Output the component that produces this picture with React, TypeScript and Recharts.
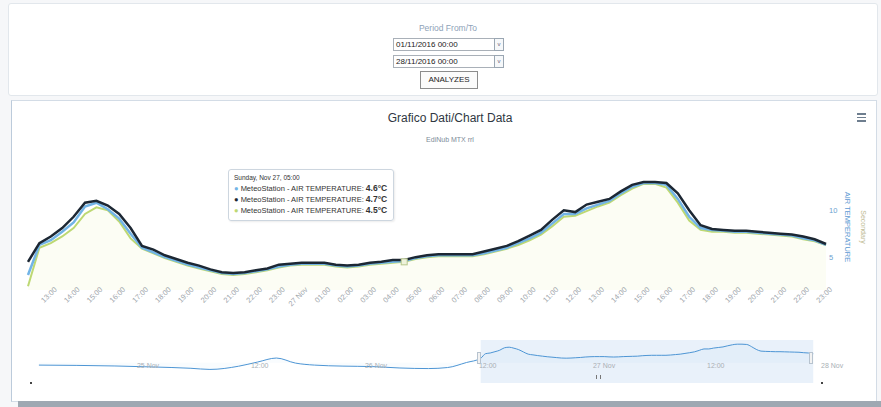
import React from "react";
import { ComposedChart, Line, Area, XAxis, YAxis, Tooltip, ReferenceArea } from "recharts";

// hours counted from 26 Nov 00:00, one reading every 30 min
const START_HOUR = 12.5;
const STEP_HOURS = 0.5;

const blueTemps = [
  3.1, 6.3, 6.8, 7.7, 8.7, 10.4, 10.8, 10.1, 9.1, 7.5,
  6.0, 5.5, 5.0, 4.6, 4.2, 3.9, 3.6, 3.3, 3.2, 3.3,
  3.5, 3.7, 4.0, 4.2, 4.3, 4.3, 4.3, 4.1, 4.0, 4.1,
  4.3, 4.4, 4.5, 4.6, 4.9, 5.1, 5.2, 5.2, 5.2, 5.2,
  5.4, 5.7, 6.0, 6.5, 7.0, 7.6, 8.6, 9.6, 9.6, 10.2,
  10.6, 11.0, 11.8, 12.5, 12.9, 12.9, 12.7, 11.2, 9.3, 8.1,
  7.9, 7.8, 7.7, 7.7, 7.6, 7.5, 7.4, 7.3, 7.0, 6.8,
  6.3,
];
const blackTemps = [
  4.5, 6.5, 7.2, 8.1, 9.3, 10.8, 11.0, 10.5, 9.6, 8.1,
  6.2, 5.8, 5.2, 4.8, 4.4, 4.1, 3.7, 3.4, 3.3, 3.4,
  3.6, 3.8, 4.2, 4.3, 4.4, 4.4, 4.4, 4.2, 4.1, 4.2,
  4.4, 4.5, 4.7, 4.7, 5.0, 5.2, 5.3, 5.3, 5.3, 5.3,
  5.6, 5.9, 6.2, 6.7, 7.3, 7.9, 9.0, 10.0, 9.8, 10.6,
  10.9, 11.2, 12.0, 12.7, 13.0, 13.0, 12.9, 11.8, 10.0, 8.4,
  8.0, 7.9, 7.8, 7.8, 7.7, 7.6, 7.5, 7.4, 7.2, 6.9,
  6.4,
];
const greenTemps = [
  1.9, 6.0, 6.5, 7.2, 8.1, 9.6, 10.3, 10.0, 8.8, 7.0,
  5.9, 5.4, 4.9, 4.5, 4.1, 3.8, 3.5, 3.2, 3.1, 3.2,
  3.4, 3.6, 3.9, 4.1, 4.2, 4.2, 4.2, 4.0, 3.9, 4.0,
  4.2, 4.3, 4.4, 4.5, 4.8, 5.0, 5.1, 5.1, 5.1, 5.1,
  5.3, 5.6, 5.9, 6.3, 6.8, 7.4, 8.3, 9.3, 9.4, 9.9,
  10.4, 10.8, 11.6, 12.3, 12.8, 12.8, 12.4, 10.8, 8.9, 7.9,
  7.7, 7.7, 7.6, 7.6, 7.5, 7.4, 7.3, 7.2, 6.9, 6.7,
  6.3,
];

const hourTicks = [
  13, 14, 15, 16, 17, 18, 19, 20, 21, 22, 23, 24, 25, 26, 27, 28, 29, 30,
  31, 32, 33, 34, 35, 36, 37, 38, 39, 40, 41, 42, 43, 44, 45, 46, 47,
];
const tempTicks = [5, 10];

// navigator: the days before the zoomed range
const navHours = [-34, -30, -26, -22, -18, -16, -13, -11, -9, -7, -5, -2, 1, 4, 7, 9, 11];
const navTemps = [-1.6, -1.8, -2.2, -2.9, -3.8, -4.6, -2.4, 0.5, 3.3, -0.2, -1.6, -2.3, -2.6, -3.6, -4.0, -3.3, 0.2];
const navTicks = [-24, -12, 0, 12, 24, 36, 48];
const navTickLabels = ["25 Nov", "12:00", "26 Nov", "12:00", "27 Nov", "12:00", "28 Nov"];

const SERIES_NAME = "MeteoStation - AIR TEMPERATURE";
const BLUE = "#72b4e6";
const BLACK = "#1c2733";
const GREEN = "#bdd873";
const FONT = "'Liberation Sans', Arial, sans-serif";

const mainData = blackTemps.map((_, i) => ({
  t: START_HOUR + i * STEP_HOURS,
  blue: blueTemps[i],
  black: blackTemps[i],
  green: greenTemps[i],
}));

const navData = [
  ...navHours.map((t, i) => ({ t, v: navTemps[i] })),
  ...mainData.map((d) => ({ t: d.t, v: d.blue })),
];

const pad = (n: number) => String(n).padStart(2, "0");
const WEEKDAYS = ["Saturday", "Sunday", "Monday"];

function hourLabel(t: number) {
  const h = ((t % 24) + 24) % 24;
  if (h === 0) return `${26 + Math.floor(t / 24)} Nov`;
  return `${pad(h)}:00`;
}

function tipLabel(t: number) {
  const day = Math.floor(t / 24);
  const h = Math.floor(t - day * 24);
  const m = Math.round((t - Math.floor(t)) * 60);
  return `${WEEKDAYS[day]}, Nov ${26 + day}, ${pad(h)}:${pad(m)}`;
}

function HourTick({ x, payload }: any) {
  const ax = x + 18;
  const ay = 130;
  return (
    <text x={ax} y={ay} transform={`rotate(-45 ${ax} ${ay})`} textAnchor="end" fontSize={7.5} fill="#a0a6ac" fontFamily={FONT}>
      {hourLabel(payload.value)}
    </text>
  );
}

function NavTick({ x, payload }: any) {
  const i = navTicks.indexOf(payload.value);
  return (
    <text x={x + 3} y={38} fontSize={7} fill="#a9afb5" fontFamily={FONT}>
      {navTickLabels[i]}
    </text>
  );
}

const TIP_ROWS = [
  { key: "blue", color: BLUE },
  { key: "black", color: BLACK },
  { key: "green", color: GREEN },
];

function TipBox({ active, payload }: any) {
  if (!active || !payload || !payload.length) return null;
  const row = payload[0].payload;
  return (
    <div
      style={{
        background: "rgba(255,255,255,0.94)",
        border: "1px solid #cdd6df",
        borderRadius: 3,
        padding: "2px 6px 4px 5px",
        fontFamily: FONT,
        fontSize: 7.5,
        lineHeight: "11px",
        color: "#333",
        whiteSpace: "nowrap",
        boxShadow: "1px 1px 2px rgba(0,0,0,0.08)",
      }}
    >
      <div style={{ fontSize: 6.5 }}>{tipLabel(row.t)}</div>
      {TIP_ROWS.map((r) => (
        <div key={r.key}>
          <span style={{ color: r.color }}>●</span> {SERIES_NAME}:{" "}
          <b style={{ fontSize: 8.5 }}>{row[r.key].toFixed(1)}°C</b>
        </div>
      ))}
    </div>
  );
}

const abs = (left: number, top: number, extra: React.CSSProperties = {}): React.CSSProperties => ({
  position: "absolute",
  left,
  top,
  ...extra,
});

const inputStyle: React.CSSProperties = {
  width: 98,
  height: 11,
  border: "1px solid #a9b0b8",
  fontSize: 8,
  lineHeight: "11px",
  paddingLeft: 2,
  color: "#222",
  background: "#fff",
};

const dropStyle: React.CSSProperties = {
  width: 8,
  height: 11,
  border: "1px solid #9aa6b2",
  fontSize: 6,
  lineHeight: "11px",
  textAlign: "center",
  color: "#667",
  background: "#f6f8fa",
};

export default function App() {
  return (
    <div style={abs(0, 0, { width: 881, height: 407, background: "#f6f7f9", fontFamily: FONT, overflow: "hidden" })}>
      {/* period selector panel */}
      <div style={abs(8, 3, { width: 868, height: 91, background: "#fff", border: "1px solid #e2e7ec", borderRadius: 3 })} />
      <div style={abs(348, 23, { width: 200, textAlign: "center", fontSize: 8.5, color: "#8ea2b8" })}>Period From/To</div>
      <div style={abs(393, 38, inputStyle)}>01/11/2016 00:00</div>
      <div style={abs(494, 38, dropStyle)}>v</div>
      <div style={abs(393, 55, inputStyle)}>28/11/2016 00:00</div>
      <div style={abs(494, 55, dropStyle)}>v</div>
      <div
        style={abs(420, 71, {
          width: 56,
          height: 16,
          border: "1px solid #8c8c8c",
          background: "#fbfbfb",
          fontSize: 8,
          lineHeight: "16px",
          textAlign: "center",
          color: "#222",
        })}
      >
        ANALYZES
      </div>

      {/* chart panel */}
      <div style={abs(11, 100, { width: 864, height: 300, background: "#fff", border: "1px solid #d3dce6", borderLeft: "1px solid #bccbdb" })} />
      <div style={abs(18, 401, { width: 863, height: 6, background: "#9ea8b2" })} />

      <div style={abs(250, 111, { width: 400, textAlign: "center", fontSize: 12, color: "#2f3742" })}>
        Grafico Dati/Chart Data
      </div>
      <div style={abs(350, 136, { width: 200, textAlign: "center", fontSize: 7, color: "#7d8b99" })}>EdiNub MTX rrl</div>
      {[0, 1, 2].map((i) => (
        <div key={i} style={abs(857, 113 + i * 3.5, { width: 9, height: 1.5, background: "#6e7e8f" })} />
      ))}

      {/* axis titles */}
      <div style={abs(847, 227, { transform: "translate(-50%, -50%) rotate(90deg)", whiteSpace: "nowrap", fontSize: 7.5, color: "#5d9ad3" })}>
        AIR TEMPERATURE
      </div>
      <div style={abs(863, 227, { transform: "translate(-50%, -50%) rotate(90deg)", whiteSpace: "nowrap", fontSize: 7, color: "#bdb98f" })}>
        Secondary
      </div>

      {/* main chart */}
      <div style={abs(0, 160)}>
        <ComposedChart width={881} height={170} data={mainData} margin={{ top: 15, right: 35, bottom: 0, left: 28 }}>
          <XAxis
            dataKey="t"
            type="number"
            domain={[12.5, 47.5]}
            ticks={hourTicks}
            tick={<HourTick />}
            axisLine={false}
            tickLine={false}
            height={40}
            interval={0}
          />
          <YAxis
            orientation="right"
            width={20}
            domain={[1.5, 13.75]}
            ticks={tempTicks}
            allowDataOverflow
            axisLine={false}
            tickLine={false}
            tickSize={0}
            tickMargin={3}
            tick={{ fontSize: 7.5, fill: "#6d9fd0", fontFamily: FONT }}
          />
          <Tooltip
            content={<TipBox />}
            defaultIndex={33}
            position={{ x: 228, y: 9 }}
            cursor={false}
            isAnimationActive={false}
            wrapperStyle={{ outline: "none" }}
          />
          <Area
            type="linear"
            dataKey="green"
            name={SERIES_NAME}
            stroke={GREEN}
            strokeWidth={2}
            fill="#f3f6cf"
            fillOpacity={0.22}
            isAnimationActive={false}
            activeDot={(p: any) => (
              <rect key="hover" x={p.cx - 3} y={p.cy - 3} width={6} height={6} fill="#eef3dc" stroke="#b7c78d" />
            )}
          />
          <Line type="linear" dataKey="blue" name={SERIES_NAME} stroke={BLUE} strokeWidth={2.5} dot={false} activeDot={false} isAnimationActive={false} />
          <Line type="linear" dataKey="black" name={SERIES_NAME} stroke={BLACK} strokeWidth={2.5} dot={false} activeDot={false} isAnimationActive={false} />
        </ComposedChart>
      </div>

      {/* navigator */}
      <div style={abs(0, 330)}>
        <ComposedChart width={881} height={60} data={navData} margin={{ top: 10, right: 63, bottom: 0, left: 37 }}>
          <XAxis
            dataKey="t"
            type="number"
            domain={[-34.2, 48]}
            ticks={navTicks}
            tick={<NavTick />}
            axisLine={false}
            tickLine={false}
            height={7}
            interval={0}
          />
          <YAxis hide domain={[-14, 15.8]} allowDataOverflow />
          <ReferenceArea x1={12.5} x2={47.5} fill="#cfe1f4" fillOpacity={0.45} stroke="none" />
          <Area
            type="monotone"
            dataKey="v"
            stroke="#4d95d4"
            strokeWidth={1}
            fill="#4d95d4"
            fillOpacity={0.03}
            dot={false}
            activeDot={false}
            isAnimationActive={false}
          />
        </ComposedChart>
      </div>
      <div style={abs(477, 352, { width: 2, height: 10, border: "1px solid #b7c3cf", background: "#f2f2f2" })} />
      <div style={abs(809, 352, { width: 2, height: 10, border: "1px solid #b7c3cf", background: "#f2f2f2" })} />
      <div style={abs(30, 382, { width: 2, height: 2, background: "#444" })} />
      <div style={abs(821, 382, { width: 2, height: 2, background: "#444" })} />
      <div style={abs(596, 375, { width: 3, height: 4, borderLeft: "1px solid #777", borderRight: "1px solid #777" })} />
    </div>
  );
}
